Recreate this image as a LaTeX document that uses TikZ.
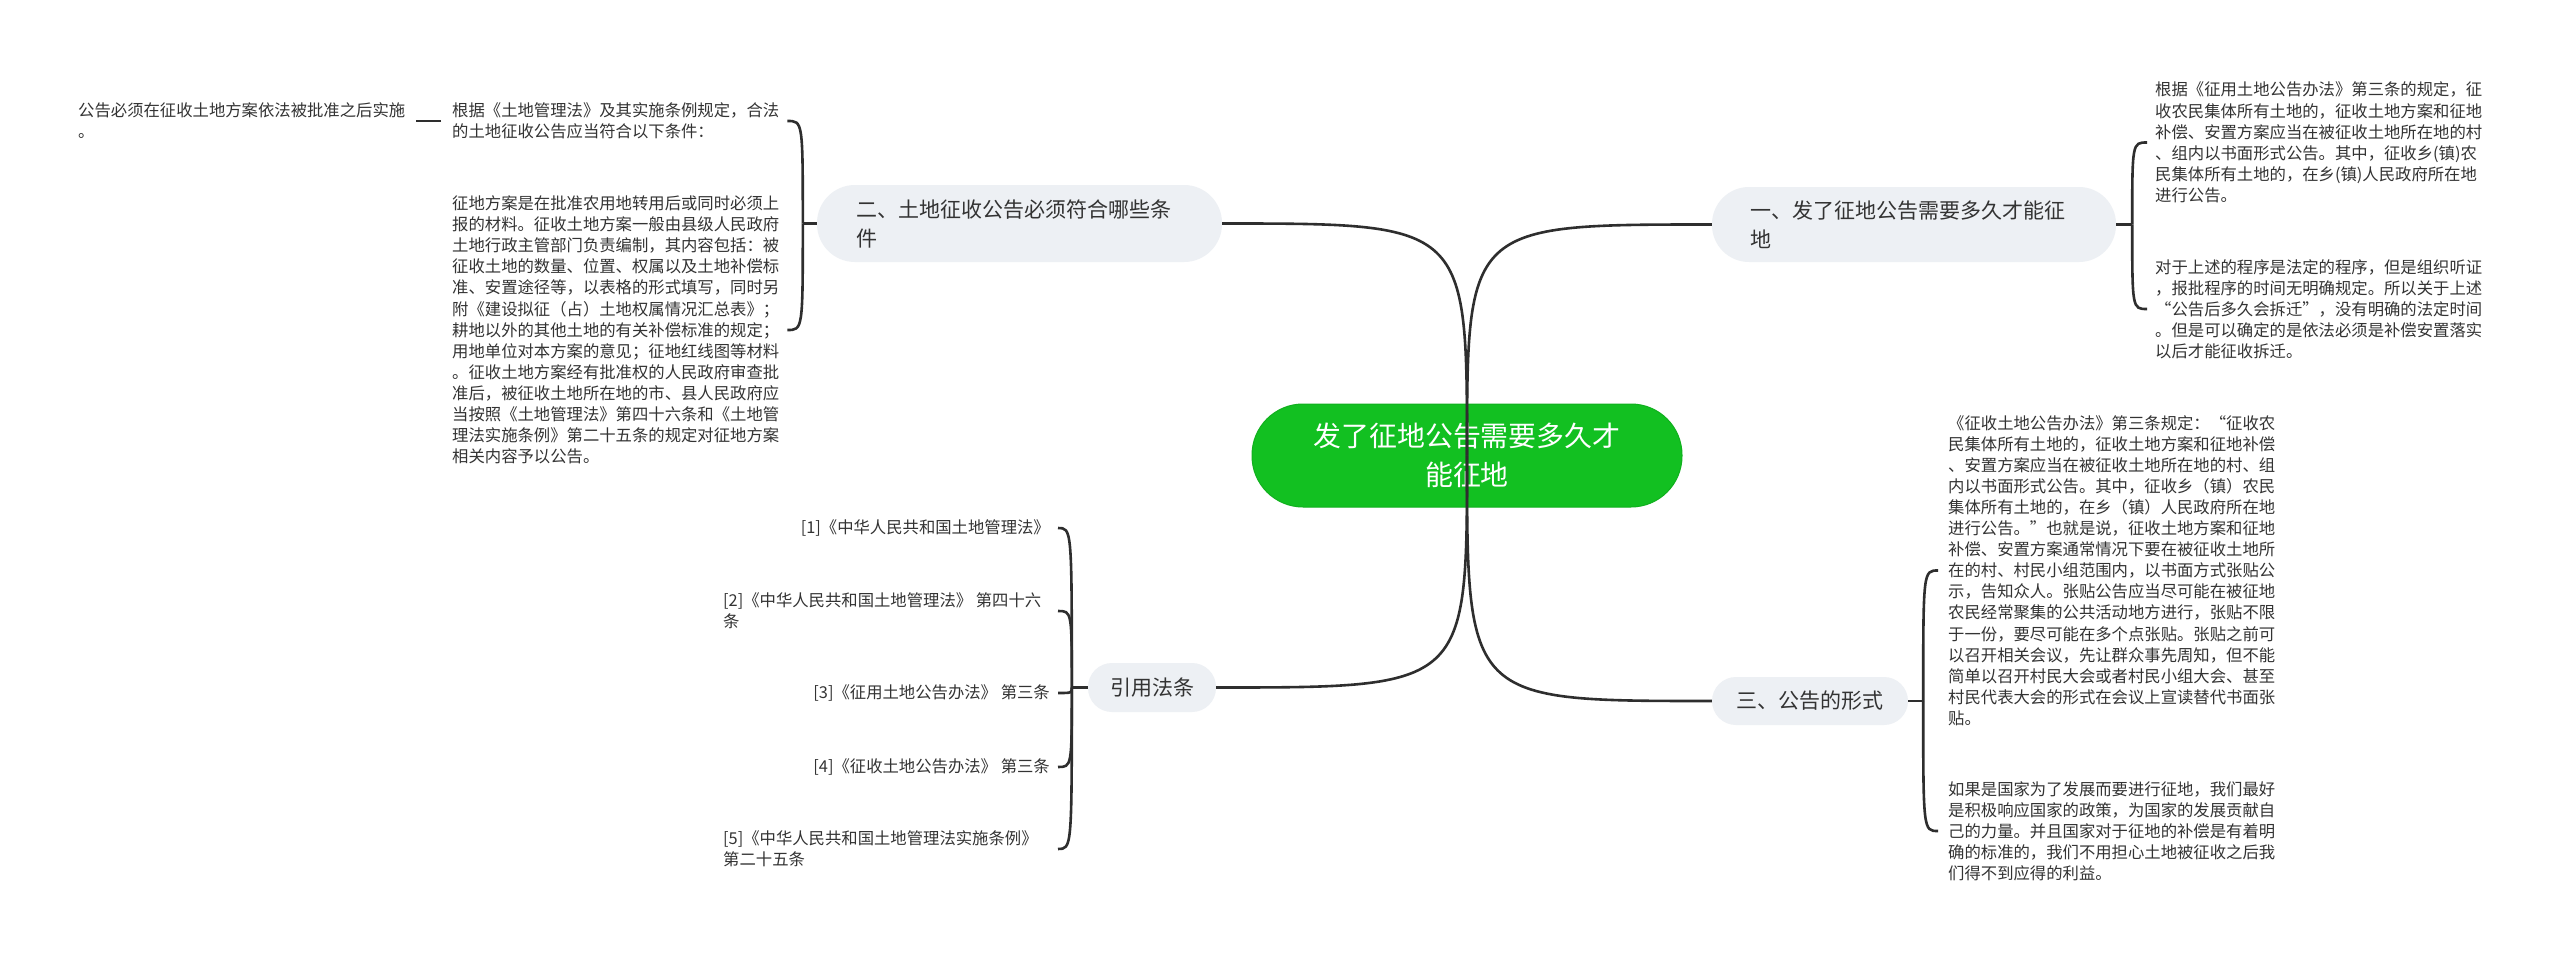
\documentclass[tikz,border=0pt]{standalone}
\usepackage{fontspec}
\newfontfamily\cjk{Noto Sans CJK SC}
\definecolor{txt}{HTML}{333333}
\definecolor{lnk}{HTML}{2E2E2E}
\definecolor{tgray}{HTML}{EDF0F4}
\definecolor{rgreen}{HTML}{12C021}
\definecolor{rgreenb}{HTML}{10B01E}
\newcommand\mLeafFont{\cjk\fontsize{16.35pt}{21.1pt}\selectfont}
\newcommand\mTopicFont{\cjk\fontsize{21pt}{29pt}\selectfont}
\newcommand\mRootFont{\cjk\fontsize{27.9pt}{39pt}\selectfont}
\begin{document}
\begin{tikzpicture}[x=1pt,y=-1pt,
  leaf/.style={font=\mLeafFont, text=txt, align=left, inner sep=0pt},
  topic/.style={font=\mTopicFont, text=txt, fill=tgray, inner sep=0pt},
  rootnode/.style={font=\mRootFont, text=white, fill=rgreen, draw=rgreenb, line width=1pt, inner sep=0pt, align=center},
  link/.style={draw=lnk, line width=2.6pt}]
\useasboundingbox[fill=white] (0,0) rectangle (2560,963);

% root
\node[rootnode, minimum width=430pt, minimum height=103pt, rounded corners=51pt] (root) at (1467,455.5) {发了征地公告需要多久才\\能征地};

% main topics
\node[topic, minimum width=404pt, minimum height=75pt, rounded corners=37pt, text width=327pt, align=left] (t1) at (1914,224.5) {一、发了征地公告需要多久才能征\\地};
\node[topic, minimum width=405pt, minimum height=77pt, rounded corners=38pt, text width=327pt, align=left] (t2) at (1019.5,223.5) {二、土地征收公告必须符合哪些条\\件};
\node[topic, minimum width=196pt, minimum height=48pt, rounded corners=24pt, align=center] (t3) at (1810,701) {三、公告的形式};
\node[topic, minimum width=128pt, minimum height=49pt, rounded corners=24pt, align=center] (t4) at (1152,687.5) {引用法条};

% left leaves of topic 2
\node[leaf, anchor=west] (L2) at (452,121) {根据《土地管理法》及其实施条例规定，合法\\的土地征收公告应当符合以下条件：};
\node[leaf, anchor=west] (L1) at (78,121) {公告必须在征收土地方案依法被批准之后实施\\。};
\node[leaf, anchor=west] (L3) at (452,330) {征地方案是在批准农用地转用后或同时必须上\\报的材料。征收土地方案一般由县级人民政府\\土地行政主管部门负责编制，其内容包括：被\\征收土地的数量、位置、权属以及土地补偿标\\准、安置途径等，以表格的形式填写，同时另\\附《建设拟征（占）土地权属情况汇总表》；\\耕地以外的其他土地的有关补偿标准的规定；\\用地单位对本方案的意见；征地红线图等材料\\。征收土地方案经有批准权的人民政府审查批\\准后，被征收土地所在地的市、县人民政府应\\当按照《土地管理法》第四十六条和《土地管\\理法实施条例》第二十五条的规定对征地方案\\相关内容予以公告。};

% right leaves of topic 1
\node[leaf, anchor=west] (R1) at (2155,142.5) {根据《征用土地公告办法》第三条的规定，征\\收农民集体所有土地的，征收土地方案和征地\\补偿、安置方案应当在被征收土地所在地的村\\、组内以书面形式公告。其中，征收乡(镇)农\\民集体所有土地的，在乡(镇)人民政府所在地\\进行公告。};
\node[leaf, anchor=west] (R2) at (2155,309) {对于上述的程序是法定的程序，但是组织听证\\，报批程序的时间无明确规定。所以关于上述\\“公告后多久会拆迁”，没有明确的法定时间\\。但是可以确定的是依法必须是补偿安置落实\\以后才能征收拆迁。};

% right leaves of topic 3
\node[leaf, anchor=west] (R3) at (1948,570.5) {《征收土地公告办法》第三条规定：“征收农\\民集体所有土地的，征收土地方案和征地补偿\\、安置方案应当在被征收土地所在地的村、组\\内以书面形式公告。其中，征收乡（镇）农民\\集体所有土地的，在乡（镇）人民政府所在地\\进行公告。”也就是说，征收土地方案和征地\\补偿、安置方案通常情况下要在被征收土地所\\在的村、村民小组范围内，以书面方式张贴公\\示，告知众人。张贴公告应当尽可能在被征地\\农民经常聚集的公共活动地方进行，张贴不限\\于一份，要尽可能在多个点张贴。张贴之前可\\以召开相关会议，先让群众事先周知，但不能\\简单以召开村民大会或者村民小组大会、甚至\\村民代表大会的形式在会议上宣读替代书面张\\贴。};
\node[leaf, anchor=west] (R4) at (1948,831) {如果是国家为了发展而要进行征地，我们最好\\是积极响应国家的政策，为国家的发展贡献自\\己的力量。并且国家对于征地的补偿是有着明\\确的标准的，我们不用担心土地被征收之后我\\们得不到应得的利益。};

% citations
\node[leaf, anchor=east] (c1) at (1050,528) {[1]《中华人民共和国土地管理法》};
\node[leaf, anchor=west] (c2) at (723,611) {[2]《中华人民共和国土地管理法》 第四十六\\条};
\node[leaf, anchor=east] (c3) at (1050,693) {[3]《征用土地公告办法》 第三条};
\node[leaf, anchor=east] (c4) at (1050,767) {[4]《征收土地公告办法》 第三条};
\node[leaf, anchor=west] (c5) at (723,849) {[5]《中华人民共和国土地管理法实施条例》\\第二十五条};

% main curves
\draw[link] (root.center) .. controls (root.center |- t2.east) .. (t2.east);
\draw[link] (root.center) .. controls (root.center |- t1.west) .. (t1.west);
\draw[link] (root.center) .. controls (root.center |- t4.east) .. (t4.east);
\draw[link] (root.center) .. controls (root.center |- t3.west) .. (t3.west);

% bracket of topic 2
\coordinate (j2) at ([xshift=-14pt]t2.west);
\draw[link] (t2.west) -- (j2);
\draw[link] (j2) .. controls (j2 |- L2.east) and (j2 |- L2.east) .. ([xshift=8pt]L2.east);
\draw[link] (j2) .. controls (j2 |- L3.east) and (j2 |- L3.east) .. ([xshift=8pt]L3.east);
\draw[link] ([xshift=-11pt]L2.west) -- ([xshift=11pt]L1.east);

% bracket of topic 1
\coordinate (j1) at ([xshift=16pt]t1.east);
\draw[link] (t1.east) -- (j1);
\draw[link] (j1) .. controls (j1 |- R1.west) and (j1 |- R1.west) .. ([xshift=-8pt]R1.west);
\draw[link] (j1) .. controls (j1 |- R2.west) and (j1 |- R2.west) .. ([xshift=-8pt]R2.west);

% bracket of topic 3
\coordinate (j3) at ([xshift=15pt]t3.east);
\draw[link] (t3.east) -- (j3);
\draw[link] (j3) .. controls (j3 |- R3.west) and (j3 |- R3.west) .. ([xshift=-10pt]R3.west);
\draw[link] (j3) .. controls (j3 |- R4.west) and (j3 |- R4.west) .. ([xshift=-10pt]R4.west);

% bracket of citations
\coordinate (j4) at ([xshift=-16pt]t4.west);
\coordinate (cend) at (1058,0);
\draw[link] (t4.west) -- (j4);
\foreach \c in {c1,c2,c3,c4,c5}
  \draw[link] (j4) .. controls (j4 |- \c.east) and (j4 |- \c.east) .. (cend |- \c.east);
\end{tikzpicture}
\end{document}
